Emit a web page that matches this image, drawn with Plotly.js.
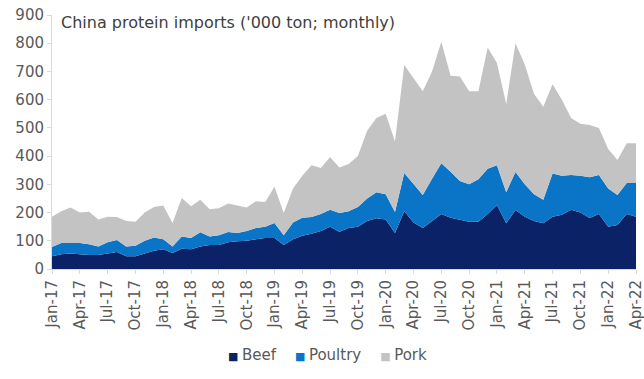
<!DOCTYPE html>
<html>
<head>
<meta charset="utf-8">
<script src="https://cdn.plot.ly/plotly-3.0.1.min.js"></script>
<style>
  html, body { margin: 0; padding: 0; background: #fff; }
  #chart { width: 644px; height: 379px; }
</style>
</head>
<body>
<div id="chart"></div>
<script>
// Monthly imports, '000 ton
const months = [
  "Jan-17","Feb-17","Mar-17","Apr-17","May-17","Jun-17","Jul-17","Aug-17","Sep-17","Oct-17","Nov-17","Dec-17",
  "Jan-18","Feb-18","Mar-18","Apr-18","May-18","Jun-18","Jul-18","Aug-18","Sep-18","Oct-18","Nov-18","Dec-18",
  "Jan-19","Feb-19","Mar-19","Apr-19","May-19","Jun-19","Jul-19","Aug-19","Sep-19","Oct-19","Nov-19","Dec-19",
  "Jan-20","Feb-20","Mar-20","Apr-20","May-20","Jun-20","Jul-20","Aug-20","Sep-20","Oct-20","Nov-20","Dec-20",
  "Jan-21","Feb-21","Mar-21","Apr-21","May-21","Jun-21","Jul-21","Aug-21","Sep-21","Oct-21","Nov-21","Dec-21",
  "Jan-22","Feb-22","Mar-22","Apr-22"
];

const beef = [
  45, 52, 55, 52, 50, 50, 55, 60, 45, 45, 55, 65,
  70, 57, 72, 70, 80, 85, 85, 95, 98, 100, 105, 110,
  110, 85, 105, 118, 125, 135, 150, 132, 145, 150, 170, 180,
  175, 128, 205, 165, 145, 170, 195, 182, 175, 167, 167, 195,
  227, 162, 209, 185, 170, 162, 185, 192, 210, 200, 181, 195,
  150, 156, 195, 185
];

const poultry = [
  33, 40, 37, 40, 38, 30, 40, 43, 35, 37, 45, 47,
  35, 23, 43, 40, 50, 30, 35, 36, 30, 35, 40, 40,
  53, 35, 60, 64, 59, 60, 60, 66, 60, 70, 80, 92,
  90, 74, 135, 135, 117, 150, 180, 163, 137, 133, 151, 160,
  141, 110, 135, 115, 95, 83, 153, 138, 123, 130, 144, 138,
  135, 106, 110, 120
];

const pork = [
  107, 113, 126, 108, 115, 95, 90, 81, 90, 85, 100, 108,
  120, 83, 137, 112, 115, 97, 95, 101, 97, 83, 95, 87,
  128, 78, 120, 148, 184, 163, 187, 162, 167, 180, 240, 263,
  285, 250, 383, 375, 368, 380, 430, 340, 370, 330, 312, 430,
  362, 313, 456, 425, 355, 330, 317, 270, 202, 185, 185, 167,
  140, 124, 141, 141
];

const tickLabels = months.filter((m, i) => i % 3 === 0);

const axisGrey = "#d9d9d9";
const textGrey = "#595959";
const fontFamily = "DejaVu Sans, Verdana, sans-serif";

const series = [
  { name: "Beef",    y: beef,    color: "#0b2366" },
  { name: "Poultry", y: poultry, color: "#0a75c6" },
  { name: "Pork",    y: pork,    color: "#c3c3c3" }
];

// Stacked areas
const areas = series.map(s => ({
  type: "scatter",
  mode: "lines",
  x: months,
  y: s.y,
  name: s.name,
  stackgroup: "imports",
  line: { width: 0, color: s.color },
  fillcolor: s.color
}));

// Compact key below the axis: small coloured square right before each name
const keyText = series
  .map(s => `<span style="color:${s.color};font-size:11px">■&nbsp;</span>${s.name}`)
  .join("&nbsp;&nbsp;&nbsp;&nbsp;");

const layout = {
  width: 644,
  height: 379,
  margin: { l: 52, r: 8, t: 15, b: 110 },
  paper_bgcolor: "#ffffff",
  plot_bgcolor: "#ffffff",
  font: { family: fontFamily, size: 15, color: textGrey },
  showlegend: false,
  xaxis: {
    type: "category",
    range: [0, months.length - 1],
    tickmode: "array",
    tickvals: tickLabels,
    ticktext: tickLabels,
    tickangle: -90,
    ticks: "outside",
    ticklen: 4,
    tickcolor: axisGrey,
    showline: true,
    linecolor: axisGrey,
    showgrid: false,
    zeroline: false,
    automargin: false,
    tickfont: { size: 15, color: textGrey }
  },
  yaxis: {
    range: [0, 900],
    dtick: 100,
    ticks: "outside",
    ticklen: 4,
    tickcolor: axisGrey,
    showline: true,
    linecolor: axisGrey,
    showgrid: false,
    zeroline: false,
    automargin: false,
    tickfont: { size: 15, color: textGrey }
  },
  annotations: [
    {
      text: "China protein imports ('000 ton; monthly)",
      xref: "paper", yref: "paper",
      x: 0.012, y: 0.972,
      xanchor: "left", yanchor: "middle",
      showarrow: false,
      font: { size: 16, color: "#404040" }
    },
    {
      text: keyText,
      xref: "paper", yref: "paper",
      x: 0.471, y: -0.339,
      xanchor: "center", yanchor: "middle",
      showarrow: false,
      font: { size: 15, color: textGrey }
    }
  ]
};

Plotly.newPlot("chart", areas, layout, { displayModeBar: false, staticPlot: true });
</script>
</body>
</html>
